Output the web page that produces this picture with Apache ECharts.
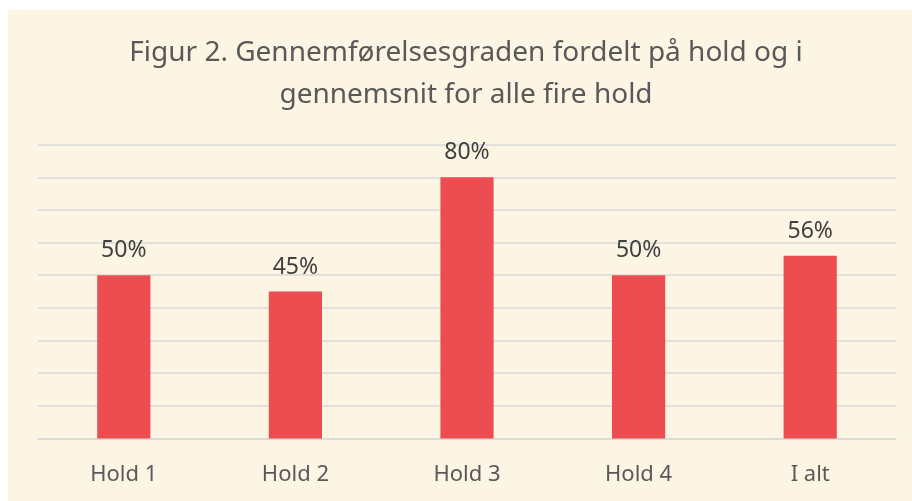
<!DOCTYPE html>
<html><head><meta charset="utf-8">
<script src="https://cdn.jsdelivr.net/npm/echarts@6/dist/echarts.min.js"></script>
<style>html,body{margin:0;padding:0;background:#fff;}#bg{position:absolute;left:8px;top:10px;right:0;bottom:0;background:#fdf5e4;}#c{position:absolute;left:0;top:0;width:912px;height:501px;}</style>
</head><body><div id="bg"></div><div id="c"></div>
<script>
const categories = ['Hold 1', 'Hold 2', 'Hold 3', 'Hold 4', 'I alt'];
const values = [50, 45, 80, 50, 56];
const titleText = 'Figur 2. Gennemførelsesgraden fordelt på hold og i\ngennemsnit for alle fire hold';
const font = '"Noto Sans", sans-serif';
const chart = echarts.init(document.getElementById('c'), null, {renderer: 'canvas'});
chart.setOption({
  backgroundColor: 'transparent',
  animation: false,
  title: {
    text: titleText, left: 461, top: 27, textAlign: 'center',
    textStyle: {fontFamily: font, fontSize: 28, fontWeight: 'normal', color: '#595959', lineHeight: 42, align: 'center'}
  },
  grid: {left: 38, right: 16, top: 144.6, bottom: 62.5},
  xAxis: {
    type: 'category', data: categories,
    axisLine: {show: true, lineStyle: {color: '#d9d9d9', width: 1.5}},
    axisTick: {show: false},
    axisLabel: {fontFamily: font, fontSize: 22, color: '#595959', margin: 25}
  },
  yAxis: {
    type: 'value', min: 0, max: 90, interval: 10,
    axisLabel: {show: false}, axisLine: {show: false}, axisTick: {show: false},
    splitLine: {lineStyle: {color: '#d9d9d9', width: 1.5}}
  },
  series: [{
    type: 'bar', data: values, barWidth: '31%',
    itemStyle: {color: '#ed4c50'},
    label: {show: true, position: 'top', distance: 13, formatter: '{c}%', fontFamily: font, fontSize: 23, color: '#404040'}
  }]
});
</script></body></html>
